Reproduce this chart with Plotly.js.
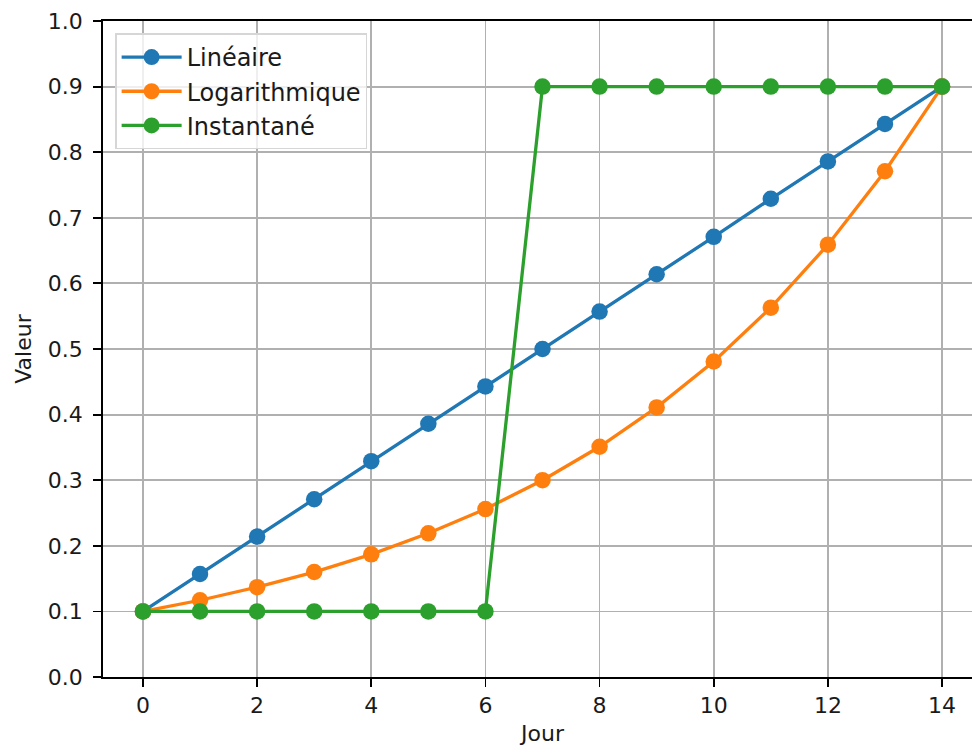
<!DOCTYPE html>
<html>
<head>
<meta charset="utf-8">
<script src="https://cdn.plot.ly/plotly-3.0.1.min.js"></script>
<style>
html, body { margin:0; padding:0; overflow:hidden; background:#fff; }
#chart { width:982px; height:753px; }
</style>
</head>
<body>
<div id="chart"></div>
<script>
const jours = [0,1,2,3,4,5,6,7,8,9,10,11,12,13,14];
const lineaire = [0.1,0.157,0.214,0.271,0.329,0.386,0.443,0.5,0.557,0.614,0.671,0.729,0.786,0.843,0.9];
const logarithmique = [0.1,0.117,0.137,0.160,0.187,0.219,0.256,0.300,0.351,0.411,0.481,0.563,0.659,0.771,0.9];
const instantane = [0.1,0.1,0.1,0.1,0.1,0.1,0.1,0.9,0.9,0.9,0.9,0.9,0.9,0.9,0.9];
const noms = ['Linéaire','Logarithmique','Instantané'];
const couleurs = ['#1f77b4','#ff7f0e','#2ca02c'];
const yTicks = [0,0.1,0.2,0.3,0.4,0.5,0.6,0.7,0.8,0.9,1.0];
const xTicks = [0,2,4,6,8,10,12,14];

const series = [lineaire, logarithmique, instantane];
const data = series.map((s,i) => ({
  x: jours, y: s, name: noms[i], type:'scatter', mode:'lines+markers',
  line:{color:couleurs[i], width:3.3},
  marker:{color:couleurs[i], size:16.5}
}));

const F = 'DejaVu Sans, sans-serif';
const layout = {
  width:982, height:753,
  margin:{l:103, r:0, t:21, b:76},
  paper_bgcolor:'#fff', plot_bgcolor:'#fff',
  font:{family:F, size:22, color:'#1a1a1a'},
  showlegend:true,
  legend:{x:0.0138, y:0.981, xanchor:'left', yanchor:'top',
    bgcolor:'rgba(255,255,255,0.8)', bordercolor:'#d6d6d6', borderwidth:1.5,
    itemwidth:60,
    font:{family:F, size:24, color:'#1a1a1a'}},
  xaxis:{range:[-0.7,14.7], tickvals:xTicks, ticktext:xTicks.map(String),
    showgrid:true, gridcolor:'#b0b0b0', gridwidth:1.8, zeroline:false,
    showline:true, linecolor:'#000', linewidth:1.8, mirror:true,
    ticks:'outside', ticklen:8, tickwidth:1.8, tickcolor:'#000',
    ticklabelstandoff:0,
    title:{text:'Jour', font:{family:F, size:22}, standoff:8}},
  yaxis:{range:[0,1], tickvals:yTicks, ticktext:yTicks.map(v=>v.toFixed(1)),
    showgrid:true, gridcolor:'#b0b0b0', gridwidth:1.8, zeroline:false,
    showline:true, linecolor:'#000', linewidth:1.8, mirror:true,
    ticks:'outside', ticklen:8, tickwidth:1.8, tickcolor:'#000',
    ticklabelstandoff:6,
    title:{text:'Valeur', font:{family:F, size:22}, standoff:10}}
};
Plotly.newPlot('chart', data, layout, {displayModeBar:false, staticPlot:true});
</script>
</body>
</html>
